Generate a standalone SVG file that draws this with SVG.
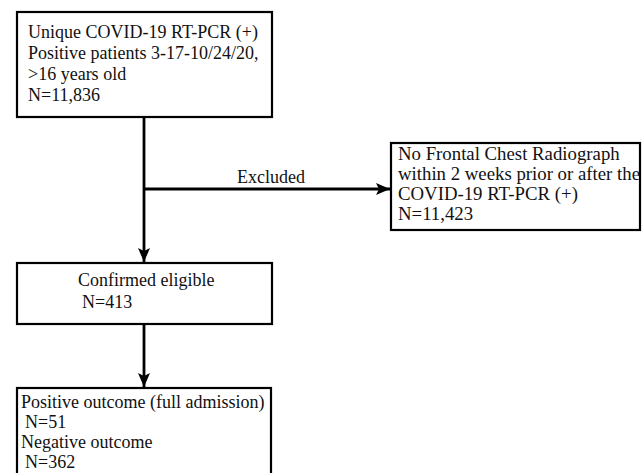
<svg xmlns="http://www.w3.org/2000/svg" width="644" height="473" viewBox="0 0 644 473">
<defs>
<marker id="ah" markerUnits="userSpaceOnUse" markerWidth="14" markerHeight="12" refX="14" refY="6" orient="auto">
<path d="M0,0 L14,6 L0,12 L3,6 Z" fill="#000"/>
</marker>
<style>
.box{fill:#fff;stroke:#000;stroke-width:2.2}
.t{font-family:"Liberation Serif","Times New Roman",serif;font-size:18px;fill:#111}
.r{font-size:18.8px}
.c{fill:none;stroke:#000;stroke-width:2.8}
</style>
</defs>
<rect width="644" height="473" fill="#fff"/>
<g id="connectors">
<line class="c" x1="144" y1="117" x2="144" y2="262" marker-end="url(#ah)"/>
<line class="c" x1="144" y1="189" x2="390" y2="189" marker-end="url(#ah)"/>
<line class="c" x1="144" y1="324" x2="144" y2="387" marker-end="url(#ah)"/>
<text class="t" x="271" y="183" text-anchor="middle">Excluded</text>
</g>
<g id="n1">
<rect class="box" x="17" y="12" width="255" height="105"/>
<text class="t" x="28" y="38">Unique COVID-19 RT-PCR (+)</text>
<text class="t" x="28" y="59">Positive patients 3-17-10/24/20,</text>
<text class="t" x="28" y="80">&gt;16 years old</text>
<text class="t" x="28" y="101">N=11,836</text>
</g>
<g id="n2">
<rect class="box" x="391" y="143" width="249" height="87"/>
<text class="t r" x="398" y="160">No Frontal Chest Radiograph</text>
<text class="t r" x="398" y="180">within 2 weeks prior or after the</text>
<text class="t r" x="398" y="200">COVID-19 RT-PCR (+)</text>
<text class="t r" x="398" y="220">N=11,423</text>
</g>
<g id="n3">
<rect class="box" x="17" y="263" width="255" height="61"/>
<text class="t" x="78" y="286">Confirmed eligible</text>
<text class="t" x="82" y="308">N=413</text>
</g>
<g id="n4">
<rect class="box" x="17" y="388" width="254" height="100"/>
<text class="t" x="21" y="408">Positive outcome (full admission)</text>
<text class="t" x="25" y="428">N=51</text>
<text class="t" x="21" y="448">Negative outcome</text>
<text class="t" x="25" y="468">N=362</text>
</g>
</svg>
